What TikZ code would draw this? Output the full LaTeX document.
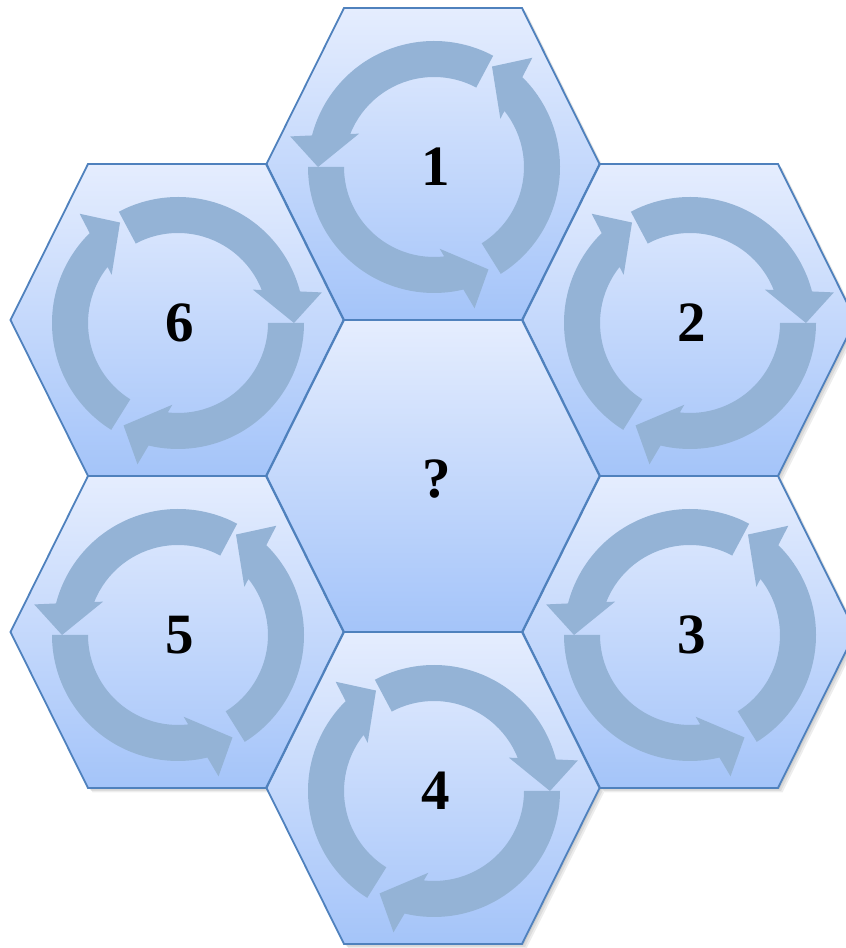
\documentclass[tikz,border=0pt]{standalone}
\usepackage{fontspec}
\setmainfont{Liberation Serif}
\definecolor{hexline}{RGB}{79,129,189}
\definecolor{hextop}{RGB}{229,237,254}
\definecolor{hexbottom}{RGB}{164,196,249}
\definecolor{ringblue}{RGB}{148,179,214}

\tikzset{
  hexshadow/.pic={
    \foreach \d in {1.5,3,4.5}
      \fill[black, opacity=0.07] (-166.5+\d,-\d) -- (-89+\d,156-\d) -- (89+\d,156-\d) -- (166.5+\d,-\d) -- (89+\d,-156-\d) -- (-89+\d,-156-\d) -- cycle;
  },
  hexcell/.pic={
    \shade[top color=hextop, bottom color=hexbottom, draw=hexline, line width=1.8pt]
      (-166.5,0) -- (-89,156) -- (89,156) -- (166.5,0) -- (89,-156) -- (-89,-156) -- cycle;
  },
  cyclering/.pic={
    \foreach \t in {62,180,302}
      \fill[ringblue] (\t:126) arc[start angle=\t, end angle=\t+103.5, radius=126]
        -- ({\t+106}:147) -- ({\t+118}:116) -- ({\t+94}:82) -- ({\t+96.5}:90)
        arc[start angle=\t+96.5, end angle=\t, radius=90] -- cycle;
  },
}

\begin{document}
\begin{tikzpicture}[x=1pt, y=1pt, label/.style={font=\fontsize{57}{60}\selectfont\bfseries, inner sep=0pt}]
  \useasboundingbox (0,0) rectangle (846,948);
  \clip (0,0) rectangle (846,948);

  % hexagon centres
  \coordinate (c1) at (433,784);
  \coordinate (c2) at (689,628);
  \coordinate (c3) at (689,316);
  \coordinate (c4) at (433,160);
  \coordinate (c5) at (177,316);
  \coordinate (c6) at (177,628);
  \coordinate (cq) at (433,472);

  \foreach \c in {c1,c2,c3,c4,c5,c6,cq}
    \pic at (\c) {hexshadow};
  \foreach \c in {c1,c2,c3,c4,c5,c6,cq}
    \pic at (\c) {hexcell};

  % counter-clockwise rings
  \foreach \c in {c1,c3,c5}
    \pic at ([shift={(1,-3)}]\c) {cyclering};
  % clockwise rings
  \foreach \c in {c2,c4,c6}
    \pic[xscale=-1] at ([shift={(1,-3)}]\c) {cyclering};

  \node[label] (one) at ([shift={(3,-3)}]c1) {1};
  \node[label] (two) at ([shift={(3,-3)}]c2) {2};
  \node[label] (three) at ([shift={(3,-3)}]c3) {3};
  \node[label] (four) at ([shift={(3,-3)}]c4) {4};
  \node[label] (five) at ([shift={(3,-3)}]c5) {5};
  \node[label] (six) at ([shift={(3,-3)}]c6) {6};
  \node[label] (query) at ([shift={(4,-3)}]cq) {?};
\end{tikzpicture}
\end{document}
